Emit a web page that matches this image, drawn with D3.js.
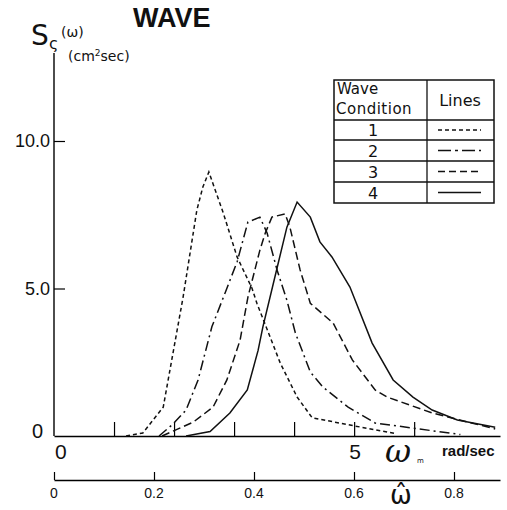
<!DOCTYPE html>
<html>
<head>
<meta charset="utf-8">
<script src="https://cdn.jsdelivr.net/npm/d3@7"></script>
<style>
  body { margin: 0; background: #fff; }
  text { fill: #111; }
</style>
</head>
<body>
<div id="chart"></div>
<script>
// spectra, omega_m in rad/sec, S in cm^2 sec
var w1 = [1.2, 1.48, 1.82, 2.15, 2.38, 2.48, 2.58, 2.82, 3.05, 3.3, 3.38, 3.77, 4.05, 4.3, 4.93, 5.7];
var s1 = [0, 0.1, 0.98, 4.7, 7.66, 8.44, 8.95, 7.56, 6.07, 5.0, 4.5, 2.47, 1.32, 0.62, 0.37, 0.08];
var w2 = [1.75, 1.98, 2.2, 2.4, 2.63, 2.85, 3.05, 3.23, 3.43, 3.55, 3.72, 3.88, 4.02, 4.27, 4.48, 4.9, 5.35, 6.77];
var s2 = [0, 0.4, 0.88, 1.9, 3.7, 4.85, 5.9, 7.25, 7.42, 6.88, 5.6, 4.6, 3.5, 2.17, 1.66, 0.98, 0.44, 0.05];
var w3 = [1.8, 2.32, 2.65, 2.88, 3.1, 3.23, 3.43, 3.52, 3.63, 3.85, 3.93, 4.1, 4.27, 4.65, 4.97, 5.35, 5.55, 6.3, 7.35];
var s3 = [0, 0.47, 0.98, 1.9, 3.25, 4.7, 6.3, 6.88, 7.42, 7.53, 7.08, 5.63, 4.5, 3.83, 2.58, 1.56, 1.32, 0.78, 0.24];
var w4 = [2.2, 2.6, 2.93, 3.22, 3.4, 3.48, 3.72, 3.88, 4.05, 4.27, 4.43, 4.63, 4.93, 5.3, 5.65, 5.98, 6.3, 6.72, 7.35];
var s4 = [0, 0.15, 0.78, 1.56, 2.9, 3.7, 5.73, 7.08, 7.93, 7.42, 6.58, 6.07, 5.05, 3.15, 1.9, 1.32, 0.88, 0.54, 0.3];

var conditions = ["1", "2", "3", "4"];
var dashes = ["4,3", "10,4,2,4", "8,4", null];
var legendDashes = ["4,3", "13,4,3,4", "7,4", null];

var yTicks = [5, 10];
var xTicks = [1, 2, 3, 4, 5, 6];
var xLabels = [0, 5];
var hatTicks = [0, 0.2, 0.4, 0.6, 0.8];

var series = [[w1, s1], [w2, s2], [w3, s3], [w4, s4]];

var svg = d3.select("#chart").append("svg")
    .attr("width", 507)
    .attr("height", 510);

var x = d3.scaleLinear().domain([0, 7.43]).range([54, 500]),
    y = d3.scaleLinear().domain([0, 10]).range([436, 141]),
    xhat = d3.scaleLinear().domain([0, 0.892]).range([54, 500]);

var line = d3.line()
    .x(function (d) { return x(d[0]); })
    .y(function (d) { return y(d[1]); });

// title and y label
svg.append("text").attr("x", 133).attr("y", 27)
    .style("font", "bold 27px 'Liberation Sans', Arial, sans-serif")
    .text("WAVE");

svg.append("text").attr("x", 31).attr("y", 45)
    .style("font", "28px 'DejaVu Sans', sans-serif")
    .text("S");
svg.append("text").attr("x", 49).attr("y", 49)
    .style("font", "16px 'DejaVu Sans', sans-serif")
    .text("ς");
svg.append("text").attr("x", 61).attr("y", 37)
    .style("font", "14px 'DejaVu Sans', sans-serif")
    .text("(ω)");
var unit = svg.append("text").attr("x", 68).attr("y", 61)
    .style("font", "14px 'DejaVu Sans', sans-serif");
unit.append("tspan").text("(cm");
unit.append("tspan").attr("dy", -5).style("font-size", "9px").text("2");
unit.append("tspan").attr("dy", 5).text("sec)");

// y axis
var yAxis = svg.append("g")
    .attr("transform", "translate(54,0)")
    .call(d3.axisLeft(y).tickValues(yTicks).tickSizeInner(-11).tickSizeOuter(0)
        .tickPadding(4).tickFormat(d3.format(".1f")));
yAxis.select(".domain").attr("d", "M0," + y(0) + "V53").attr("stroke-width", 1.4);
yAxis.selectAll(".tick line").attr("stroke-width", 1.2);
yAxis.selectAll(".tick text")
    .style("font", "18px 'Liberation Sans', Arial, sans-serif")
    .attr("fill", "#111");

svg.append("text").attr("x", 43).attr("y", 438)
    .attr("text-anchor", "end")
    .style("font", "20px 'Liberation Sans', Arial, sans-serif")
    .text("0");

// omega_m axis
var xAxis = svg.append("g")
    .attr("transform", "translate(0," + y(0) + ")")
    .call(d3.axisBottom(x).tickValues(xTicks).tickSizeInner(-14).tickSizeOuter(0).tickFormat(""));
xAxis.select(".domain").attr("stroke-width", 1.4);
xAxis.selectAll(".tick line").attr("stroke-width", 1.2);

svg.selectAll(".xlab").data(xLabels).enter().append("text")
    .attr("x", function (d) { return x(d) + 1; })
    .attr("y", 459)
    .attr("text-anchor", function (d) { return d === 0 ? "start" : "middle"; })
    .style("font", "21px 'Liberation Sans', Arial, sans-serif")
    .text(function (d) { return d; });

svg.append("text").attr("x", 385).attr("y", 462)
    .style("font", "italic 32px 'DejaVu Serif', serif")
    .text("ω");
svg.append("text").attr("x", 417).attr("y", 463)
    .style("font", "7px 'DejaVu Sans', sans-serif")
    .text("m");
svg.append("text").attr("x", 442).attr("y", 456)
    .style("font", "bold 15px 'Liberation Sans', Arial, sans-serif")
    .text("rad/sec");

// omega hat axis
var hatAxis = svg.append("g")
    .attr("transform", "translate(0,480)")
    .call(d3.axisBottom(xhat).tickValues(hatTicks).tickSizeInner(-8).tickSizeOuter(0).tickFormat(""));
hatAxis.select(".domain").attr("stroke-width", 1.4);
hatAxis.selectAll(".tick line").attr("stroke-width", 1.2);

svg.selectAll(".hatlab").data(hatTicks).enter().append("text")
    .attr("x", function (d) { return xhat(d); })
    .attr("y", 498)
    .attr("text-anchor", "middle")
    .style("font", "14px 'Liberation Sans', Arial, sans-serif")
    .text(function (d) { return d === 0 ? "0" : d3.format(".1f")(d); });

svg.append("text").attr("x", 390).attr("y", 504)
    .style("font", "26px 'DejaVu Sans', sans-serif")
    .text("ω\u0302");

// curves
svg.selectAll(".spec").data(series).enter().append("path")
    .attr("class", "spec")
    .attr("fill", "none")
    .attr("stroke", "#111")
    .attr("stroke-width", 1.5)
    .attr("stroke-dasharray", function (d, i) { return dashes[i]; })
    .attr("d", function (d) { return line(d3.zip(d[0], d[1])); });

// legend table
var lg = svg.append("g");
var rowY = [120, 140, 161, 182, 203];
lg.append("rect").attr("x", 334).attr("y", 80).attr("width", 160).attr("height", 123)
    .attr("fill", "#fff").attr("stroke", "#111").attr("stroke-width", 1.5);
lg.append("line").attr("x1", 427).attr("x2", 427).attr("y1", 80).attr("y2", 203)
    .attr("stroke", "#111").attr("stroke-width", 1.3);
lg.selectAll(".rowline").data(rowY.slice(0, 4)).enter().append("line")
    .attr("x1", 334).attr("x2", 494)
    .attr("y1", function (d) { return d; }).attr("y2", function (d) { return d; })
    .attr("stroke", "#111").attr("stroke-width", 1.3);

lg.append("text").attr("x", 337).attr("y", 94)
    .style("font", "15px 'DejaVu Sans', sans-serif").text("Wave");
lg.append("text").attr("x", 336).attr("y", 114)
    .style("font", "15px 'DejaVu Sans', sans-serif")
    .style("letter-spacing", "0.5px").text("Condition");
lg.append("text").attr("x", 460).attr("y", 106).attr("text-anchor", "middle")
    .style("font", "16px 'DejaVu Sans', sans-serif").text("Lines");

lg.selectAll(".cond").data(conditions).enter().append("text")
    .attr("x", 373)
    .attr("y", function (d, i) { return (rowY[i] + rowY[i + 1]) / 2 + 6; })
    .attr("text-anchor", "middle")
    .style("font", "16px 'DejaVu Sans', sans-serif")
    .text(function (d) { return d; });

lg.selectAll(".sample").data(conditions).enter().append("line")
    .attr("x1", 438).attr("x2", 481)
    .attr("y1", function (d, i) { return (rowY[i] + rowY[i + 1]) / 2; })
    .attr("y2", function (d, i) { return (rowY[i] + rowY[i + 1]) / 2; })
    .attr("stroke", "#111").attr("stroke-width", 1.3)
    .attr("stroke-dasharray", function (d, i) { return legendDashes[i]; });
</script>
</body>
</html>
